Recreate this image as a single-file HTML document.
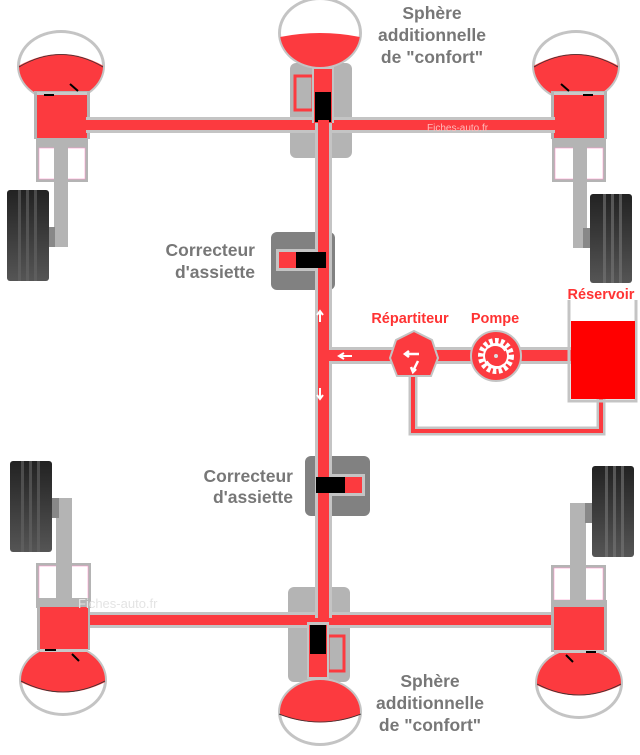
<!DOCTYPE html>
<html><head><meta charset="utf-8"><style>
html,body{margin:0;padding:0;background:#fff;}
svg{display:block;}
.lab{font-family:"Liberation Sans",sans-serif;font-weight:bold;font-size:17.5px;fill:#777;}
.rl{font-family:"Liberation Sans",sans-serif;font-weight:bold;font-size:14.5px;fill:#f33;}
</style></head><body>
<svg width="640" height="755" viewBox="0 0 640 755" xmlns="http://www.w3.org/2000/svg">
<defs>
<linearGradient id="tire" x1="0" y1="0" x2="0" y2="1">
<stop offset="0" stop-color="#222"/><stop offset="1" stop-color="#555"/></linearGradient>
<clipPath id="e1"><ellipse cx="61" cy="66" rx="42" ry="34"/></clipPath>
<clipPath id="e2"><ellipse cx="576" cy="66" rx="42" ry="34"/></clipPath>
<clipPath id="e3"><ellipse cx="320" cy="33" rx="40" ry="34"/></clipPath>
<clipPath id="e4"><ellipse cx="63" cy="680" rx="42" ry="34"/></clipPath>
<clipPath id="e5"><ellipse cx="579" cy="683" rx="42" ry="34"/></clipPath>
<clipPath id="e6"><ellipse cx="320" cy="712" rx="40" ry="32"/></clipPath>
</defs>

<rect x="290" y="63" width="62" height="95" rx="6" fill="#b4b4b4"/>
<rect x="288" y="587" width="62" height="95" rx="6" fill="#b4b4b4"/>

<!-- TOP LEFT unit -->
<rect x="54" y="138" width="14" height="109" fill="#b4b4b4"/>
<rect x="36" y="138" width="52" height="44" fill="#b4b4b4"/>
<rect x="39" y="148" width="46" height="31" fill="#fff" stroke="#f9c" stroke-width="0.6"/>
<rect x="54" y="146" width="14" height="36" fill="#b4b4b4"/>
<rect x="48" y="227" width="7" height="20" fill="#888"/>
<rect x="7" y="190" width="42" height="91" rx="3" fill="url(#tire)"/>
<g fill="#666" opacity="0.6"><rect x="18" y="190" width="3" height="91"/><rect x="26" y="190" width="3" height="91"/><rect x="34" y="190" width="3" height="91"/></g>
<ellipse cx="61" cy="66" rx="44" ry="36" fill="#c4c4c4"/>
<ellipse cx="61" cy="66" rx="41" ry="33" fill="#fff"/>
<path d="M15 68 Q61 40 107 68 L107 110 L15 110Z" fill="#fc3a3f" clip-path="url(#e1)"/>
<path d="M19 67 Q61 42 103 67" fill="none" stroke="#333" stroke-width="0.8"/>
<rect x="34" y="91" width="56" height="48" fill="#b4b4b4"/>
<rect x="37" y="93" width="50" height="45" fill="#fc3a3f"/>
<rect x="37" y="92" width="50" height="3" fill="#c8c8c8"/>
<rect x="44" y="94" width="10" height="2" fill="#000"/>
<path d="M70 84 L78 91" stroke="#000" stroke-width="2"/>

<!-- TOP RIGHT unit -->
<rect x="573" y="138" width="14" height="110" fill="#b4b4b4"/>
<rect x="552" y="138" width="54" height="44" fill="#b4b4b4"/>
<rect x="555" y="148" width="48" height="31" fill="#fff" stroke="#f9c" stroke-width="0.6"/>
<rect x="573" y="146" width="14" height="36" fill="#b4b4b4"/>
<rect x="583" y="228" width="7" height="20" fill="#888"/>
<rect x="590" y="194" width="42" height="89" rx="3" fill="url(#tire)"/>
<g fill="#777" opacity="0.6"><rect x="603" y="194" width="3" height="89"/><rect x="611" y="194" width="3" height="89"/><rect x="619" y="194" width="3" height="89"/></g>
<ellipse cx="576" cy="66" rx="44" ry="36" fill="#c4c4c4"/>
<ellipse cx="576" cy="66" rx="41" ry="33" fill="#fff"/>
<path d="M530 68 Q576 40 622 68 L622 110 L530 110Z" fill="#fc3a3f" clip-path="url(#e2)"/>
<path d="M534 67 Q576 42 618 67" fill="none" stroke="#333" stroke-width="0.8"/>
<rect x="551" y="91" width="56" height="48" fill="#b4b4b4"/>
<rect x="554" y="93" width="50" height="45" fill="#fc3a3f"/>
<rect x="554" y="92" width="50" height="3" fill="#c8c8c8"/>
<rect x="583" y="94" width="10" height="2" fill="#000"/>
<path d="M561 84 L569 91" stroke="#000" stroke-width="2"/>

<rect x="86" y="117" width="469" height="16" fill="#c4c4c4"/>
<rect x="86" y="120" width="469" height="10" fill="#fc3a3f"/>
<text x="427" y="131" font-family="Liberation Sans,sans-serif" font-size="10" fill="#fbb">Fiches-auto.fr</text>

<rect x="86" y="612" width="469" height="16" fill="#c4c4c4"/>
<rect x="86" y="615" width="469" height="10" fill="#fc3a3f"/>

<rect x="315" y="122" width="17" height="496" fill="#c4c4c4"/>
<rect x="318" y="122" width="11" height="496" fill="#fc3a3f"/>

<ellipse cx="320" cy="33" rx="42" ry="36" fill="#c4c4c4"/>
<ellipse cx="320" cy="33" rx="39" ry="33" fill="#fff"/>
<path d="M275 38 Q320 28 365 38 L365 80 L275 80Z" fill="#fc3a3f" clip-path="url(#e3)"/>
<rect x="295" y="76" width="18" height="34" fill="none" stroke="#fc3a3f" stroke-width="3"/>
<rect x="312" y="67" width="22" height="56" fill="#c4c4c4"/>
<rect x="314" y="69" width="18" height="54" fill="#fc3a3f"/>
<rect x="315" y="92" width="16" height="30" fill="#000"/>
<rect x="318" y="120" width="11" height="13" fill="#fc3a3f"/>

<rect x="271" y="232" width="64" height="58" rx="6" fill="#818181"/>
<rect x="276" y="249" width="56" height="22" fill="#c4c4c4"/>
<rect x="279" y="252" width="20" height="16" fill="#fc3a3f"/>
<rect x="296" y="252" width="30" height="16" fill="#000"/>
<rect x="315" y="232" width="17" height="58" fill="#c4c4c4"/>
<rect x="318" y="232" width="11" height="58" fill="#fc3a3f"/>
<rect x="315" y="252" width="11" height="16" fill="#000"/>
<text class="lab" x="255" y="256" text-anchor="end">Correcteur</text>
<text class="lab" x="255" y="278" text-anchor="end">d'assiette</text>

<rect x="305" y="456" width="65" height="60" rx="6" fill="#818181"/>
<rect x="315" y="474" width="50" height="22" fill="#c4c4c4"/>
<rect x="318" y="477" width="44" height="16" fill="#fc3a3f"/>
<rect x="315" y="456" width="17" height="60" fill="#c4c4c4"/>
<rect x="318" y="456" width="11" height="60" fill="#fc3a3f"/>
<rect x="316" y="477" width="29" height="16" fill="#000"/>
<text class="lab" x="293" y="482" text-anchor="end">Correcteur</text>
<text class="lab" x="293" y="503" text-anchor="end">d'assiette</text>

<rect x="329" y="347" width="245" height="17" fill="#c4c4c4"/>
<rect x="326" y="350" width="248" height="11" fill="#fc3a3f"/>
<path d="M320 322 L320 312 M317 315 L320 311 L323 315" stroke="#fff" stroke-width="2" fill="none"/>
<path d="M320 388 L320 398 M317 395 L320 399 L323 395" stroke="#fff" stroke-width="2" fill="none"/>
<path d="M352 356 L340 356 M344 353 L339 356 L344 359" stroke="#fff" stroke-width="2" fill="none"/>
<path d="M413 370 L413 431 L601 431 L601 398" fill="none" stroke="#c4c4c4" stroke-width="9"/>
<path d="M413 370 L413 431 L601 431 L601 398" fill="none" stroke="#fc3a3f" stroke-width="4"/>
<polygon points="414,331 432,340 438,358 431,376 397,376 390,358 396,340" fill="#fc3a3f" stroke="#c4c4c4" stroke-width="2"/>
<path d="M419 354 L406 354 M409 351 L405 354 L409 357" stroke="#fff" stroke-width="2.5" fill="none"/>
<path d="M418 361 L413 371 M411 367 L413 372 L416 369" stroke="#fff" stroke-width="2.5" fill="none"/>
<circle cx="496" cy="356" r="25" fill="#fc3a3f" stroke="#c4c4c4" stroke-width="2"/>
<circle cx="496" cy="356" r="15" fill="none" stroke="#fff" stroke-width="6" stroke-dasharray="3.5 2.3"/>
<circle cx="496" cy="356" r="13" fill="#fff"/>
<circle cx="496" cy="356" r="11" fill="#fc3a3f"/>
<path d="M488 348 A11 11 0 0 1 505 351" fill="none" stroke="#fff" stroke-width="1.5"/>
<path d="M504 364 A11 11 0 0 1 487 361" fill="none" stroke="#fff" stroke-width="1.5"/>
<circle cx="496" cy="356" r="2" fill="#ddd"/>
<path d="M569 300 L569 401 L636 401 L636 300" fill="none" stroke="#c4c4c4" stroke-width="3"/>
<rect x="571" y="321" width="64" height="78" fill="#f00"/>
<text class="rl" x="410" y="323" text-anchor="middle">Répartiteur</text>
<text class="rl" x="495" y="323" text-anchor="middle">Pompe</text>
<text class="rl" x="601" y="299" text-anchor="middle">Réservoir</text>

<text class="lab" x="432" y="19" text-anchor="middle">Sphère</text>
<text class="lab" x="432" y="41" text-anchor="middle">additionnelle</text>
<text class="lab" x="432" y="63" text-anchor="middle">de "confort"</text>

<!-- BOTTOM LEFT -->
<rect x="56" y="498" width="16" height="110" fill="#b4b4b4"/>
<rect x="36" y="563" width="55" height="45" fill="#b4b4b4"/>
<rect x="39" y="566" width="49" height="34" fill="#fff" stroke="#f9c" stroke-width="0.6"/>
<rect x="56" y="564" width="16" height="44" fill="#b4b4b4"/>
<rect x="52" y="498" width="7" height="20" fill="#888"/>
<rect x="10" y="461" width="42" height="91" rx="3" fill="url(#tire)"/>
<g fill="#666" opacity="0.6"><rect x="21" y="461" width="3" height="91"/><rect x="29" y="461" width="3" height="91"/><rect x="37" y="461" width="3" height="91"/></g>
<ellipse cx="63" cy="680" rx="44" ry="36" fill="#c4c4c4"/>
<ellipse cx="63" cy="680" rx="41" ry="33" fill="#fff"/>
<path d="M17 680 Q63 705 109 680 L109 640 L17 640Z" fill="#fc3a3f" clip-path="url(#e4)"/>
<path d="M21 681 Q63 703 105 681" fill="none" stroke="#333" stroke-width="0.8"/>
<rect x="37" y="598" width="53" height="52" fill="#b4b4b4"/>
<rect x="40" y="607" width="48" height="42" fill="#fc3a3f"/>
<rect x="40" y="649" width="48" height="3" fill="#c8c8c8"/>
<rect x="45" y="649" width="11" height="2" fill="#000"/>
<path d="M72 654 L79 661" stroke="#000" stroke-width="2"/>
<text x="78" y="608" font-family="Liberation Sans,sans-serif" font-size="13" fill="#e4e4e4">Fiches-auto.fr</text>

<!-- BOTTOM RIGHT -->
<rect x="570" y="503" width="16" height="105" fill="#b4b4b4"/>
<rect x="551" y="565" width="55" height="43" fill="#b4b4b4"/>
<rect x="554" y="568" width="49" height="32" fill="#fff" stroke="#f9c" stroke-width="0.6"/>
<rect x="570" y="566" width="16" height="42" fill="#b4b4b4"/>
<rect x="585" y="503" width="7" height="20" fill="#888"/>
<rect x="592" y="466" width="42" height="91" rx="3" fill="url(#tire)"/>
<g fill="#777" opacity="0.6"><rect x="605" y="466" width="3" height="91"/><rect x="613" y="466" width="3" height="91"/><rect x="621" y="466" width="3" height="91"/></g>
<ellipse cx="579" cy="683" rx="44" ry="36" fill="#c4c4c4"/>
<ellipse cx="579" cy="683" rx="41" ry="33" fill="#fff"/>
<path d="M533 683 Q579 708 625 683 L625 640 L533 640Z" fill="#fc3a3f" clip-path="url(#e5)"/>
<path d="M537 684 Q579 706 621 684" fill="none" stroke="#333" stroke-width="0.8"/>
<rect x="551" y="600" width="56" height="52" fill="#b4b4b4"/>
<rect x="554" y="607" width="50" height="43" fill="#fc3a3f"/>
<rect x="554" y="650" width="50" height="3" fill="#c8c8c8"/>
<rect x="586" y="651" width="10" height="2" fill="#000"/>
<path d="M566 655 L573 662" stroke="#000" stroke-width="2"/>

<ellipse cx="320" cy="712" rx="42" ry="34" fill="#c4c4c4"/>
<ellipse cx="320" cy="712" rx="39" ry="31" fill="#fff"/>
<path d="M275 713 Q320 732 365 713 L365 670 L275 670Z" fill="#fc3a3f" clip-path="url(#e6)"/>
<path d="M279 714 Q320 730 361 714" fill="none" stroke="#333" stroke-width="0.8"/>
<rect x="328" y="636" width="16" height="35" fill="none" stroke="#fc3a3f" stroke-width="3"/>
<rect x="307" y="622" width="22" height="57" fill="#c4c4c4"/>
<rect x="309" y="625" width="18" height="52" fill="#fc3a3f"/>
<rect x="310" y="625" width="16" height="29" fill="#000"/>
<text class="lab" x="430" y="687" text-anchor="middle">Sphère</text>
<text class="lab" x="430" y="709" text-anchor="middle">additionnelle</text>
<text class="lab" x="430" y="731" text-anchor="middle">de "confort"</text>
</svg>
</body></html>
